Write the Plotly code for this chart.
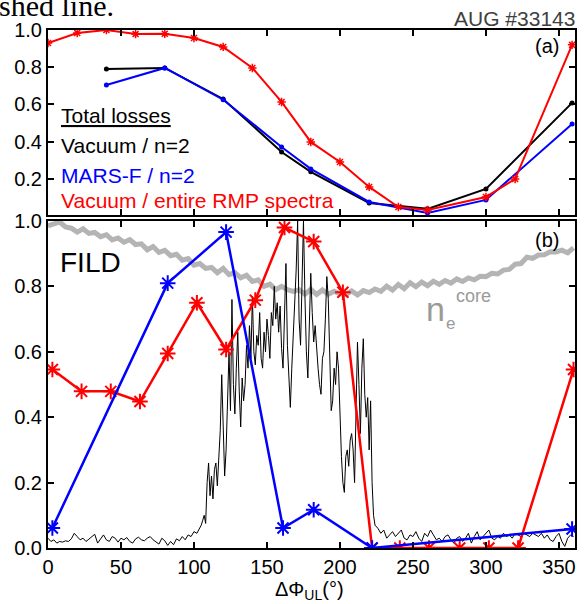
import plotly.graph_objects as go

# ---------------- data ----------------
# panel (a): total losses
a_red_x = [0, 20, 40, 60, 80, 100, 120, 140, 160, 180, 200, 220, 240, 260, 300, 320, 359]
a_red_y = [0.93, 0.984, 1.0, 0.978, 0.98, 0.957, 0.909, 0.796, 0.613, 0.398, 0.29, 0.156, 0.048, 0.032, 0.102, 0.199, 0.92]
a_blk_x = [40, 80, 120, 160, 180, 220, 260, 300, 359]
a_blk_y = [0.79, 0.796, 0.629, 0.344, 0.237, 0.07, 0.038, 0.145, 0.608]
a_blu_x = [40, 80, 120, 160, 180, 220, 260, 300, 359]
a_blu_y = [0.704, 0.796, 0.625, 0.371, 0.253, 0.075, 0.016, 0.086, 0.495]

# panel (b): FILD
b_red_x = [3, 23, 43, 63, 82, 102, 122, 142, 162, 182, 202, 222, 241, 261, 282, 302, 322, 360]
b_red_y = [0.546, 0.479, 0.479, 0.448, 0.595, 0.75, 0.607, 0.758, 0.98, 0.937, 0.782, 0.0, 0.0, 0.0, 0.0, 0.0, 0.0, 0.546]
b_blu_x = [3, 82, 122, 161, 182, 222, 359]
b_blu_y = [0.061, 0.81, 0.966, 0.061, 0.117, 0.0, 0.058]

ne_x = [0, 4, 8, 12, 16, 20, 24, 28, 32, 36, 40, 44, 48, 52, 56, 60, 64, 68, 72, 76,
        80, 84, 88, 92, 96, 100, 104, 108, 112, 116, 120, 124, 128, 132, 136, 140, 144, 148, 152, 156,
        160, 164, 168, 172, 176, 180, 184, 188, 192, 196, 200, 204, 208, 212, 216, 220, 224, 228, 232, 236,
        240, 244, 248, 252, 256, 260, 264, 268, 272, 276, 280, 284, 288, 292, 296, 300, 304, 308, 312, 316,
        320, 324, 328, 332, 336, 340, 344, 348, 352, 356, 360]
ne_y = [0.985, 0.992, 0.997, 0.982, 0.978, 0.966, 0.976, 0.962, 0.965, 0.952, 0.958, 0.942, 0.948, 0.935, 0.943, 0.928, 0.93, 0.912, 0.922, 0.904,
        0.91, 0.894, 0.898, 0.88, 0.885, 0.865, 0.87, 0.855, 0.858, 0.842, 0.855, 0.836, 0.842, 0.826, 0.834, 0.815, 0.82, 0.8, 0.807, 0.79,
        0.8, 0.79, 0.785, 0.79, 0.776, 0.791, 0.775, 0.789, 0.776, 0.785, 0.777, 0.775, 0.786, 0.774, 0.787, 0.781, 0.792, 0.785, 0.801, 0.789,
        0.806, 0.793, 0.811, 0.799, 0.813, 0.802, 0.816, 0.806, 0.818, 0.81, 0.823, 0.815, 0.826, 0.82, 0.831, 0.83, 0.84, 0.838, 0.85, 0.852,
        0.868, 0.87, 0.889, 0.886, 0.896, 0.897, 0.906, 0.905, 0.911, 0.903, 0.918]

fild_x = ([0, 2, 4, 6, 8, 10, 12, 14, 16, 18, 20, 22, 24, 26, 28, 30, 32, 34, 36, 38, 40, 42, 44, 46, 48, 50,
           52, 54, 56, 58, 60, 62, 64, 66, 68, 70, 72, 74, 76, 78, 80, 82, 84, 86, 88, 90, 92, 94, 96, 98, 100, 102, 104]
          + list(range(105, 225))
          + [226, 228, 230, 232, 234, 236, 238, 240, 242, 244, 246, 248, 250, 252, 254, 256, 258, 260, 262, 264,
             266, 268, 270, 272, 274, 276, 278, 280, 282, 284, 286, 288, 290, 292, 294, 296, 298, 300, 302, 304,
             306, 308, 310, 312, 314, 316, 318, 320, 322, 324, 326, 328, 330, 332, 334, 336, 338, 340, 342, 344,
             346, 348, 350, 352, 354, 356, 358, 360])
fild_y = ([0.03, 0.02, 0.025, 0.015, 0.02, 0.018, 0.022, 0.02, 0.028, 0.045, 0.035, 0.025, 0.03, 0.02, 0.027, 0.035, 0.042, 0.015,
           0.028, 0.04, 0.025, 0.02, 0.035, 0.03, 0.018, 0.03, 0.025, 0.032, 0.02, 0.015, 0.028, 0.033, 0.025, 0.022, 0.03, 0.035,
           0.025, 0.018, 0.012, 0.03, 0.022, 0.008, 0.02, 0.01, 0.028, 0.022, 0.035, 0.025, 0.04, 0.035, 0.05, 0.045, 0.06]
          + [0.07, 0.085, 0.1, 0.075, 0.2, 0.26, 0.16, 0.22, 0.15, 0.24, 0.26, 0.19, 0.29, 0.36, 0.53, 0.38, 0.22, 0.3, 0.45, 0.6,
             0.42, 0.76, 0.5, 0.41, 0.55, 0.66, 0.48, 0.37, 0.52, 0.45, 0.5, 0.62, 0.55, 0.68, 0.58, 0.77, 0.6, 0.56, 0.65, 0.62,
             0.72, 0.58, 0.55, 0.66, 0.6, 0.7, 0.65, 0.58, 0.72, 0.68, 0.8, 0.7, 0.75, 0.66, 0.74, 0.61, 0.55, 0.72, 0.87, 0.62,
             0.5, 0.43, 0.55, 0.66, 0.72, 0.85, 1.0, 0.7, 0.62, 0.8, 1.0, 0.77, 0.6, 0.52, 0.7, 0.84, 0.72, 0.63, 0.68, 0.6,
             0.55, 0.5, 0.47, 0.58, 0.6, 0.7, 0.83, 0.76, 0.6, 0.42, 0.45, 0.55, 0.5, 0.6, 0.55, 0.38, 0.28, 0.2, 0.17, 0.28,
             0.3, 0.25, 0.33, 0.35, 0.3, 0.2, 0.45, 0.63, 0.5, 0.35, 0.55, 0.64, 0.47, 0.4, 0.46, 0.3, 0.45, 0.2, 0.1, 0.07]
          + [0.06, 0.045, 0.055, 0.03, 0.04, 0.05, 0.035, 0.045, 0.055, 0.03, 0.025, 0.04, 0.035, 0.05, 0.03, 0.02, 0.045, 0.035,
             0.055, 0.04, 0.025, 0.03, 0.02, 0.035, 0.04, 0.025, 0.015, 0.03, 0.035, 0.02, 0.03, 0.045, 0.015, 0.035, 0.05, 0.025,
             0.035, 0.045, 0.055, 0.03, 0.025, 0.035, 0.03, 0.045, 0.035, 0.04, 0.03, 0.045, 0.04, 0.035, 0.045, 0.04, 0.035, 0.045,
             0.04, 0.035, 0.045, 0.03, 0.04, 0.025, 0.02, 0.035, 0.045, 0.02, 0.005, 0.03, 0.04, 0.035])

x_ticks = [0, 50, 100, 150, 200, 250, 300, 350]

# ---------------- figure ----------------
W, H = 585, 604
ML, MR, MT, MB = 48, 8, 30, 56
PW, PH = W - ML - MR, H - MT - MB


def px(p):
    return (p - ML) / PW


def py(p):
    return (H - MB - p) / PH


FONT = "Liberation Sans, Arial, sans-serif"
RED, BLUE = "#ff0000", "#0000ff"

fig = go.Figure()

# panel (a)
fig.add_trace(go.Scatter(x=a_blk_x, y=a_blk_y, mode="lines+markers", xaxis="x", yaxis="y",
                         line=dict(color="black", width=2), marker=dict(size=5, color="black")))
fig.add_trace(go.Scatter(x=a_blu_x, y=a_blu_y, mode="lines+markers", xaxis="x", yaxis="y",
                         line=dict(color=BLUE, width=2), marker=dict(size=5, color=BLUE)))
fig.add_trace(go.Scatter(x=a_red_x, y=a_red_y, mode="lines+markers", xaxis="x", yaxis="y",
                         line=dict(color=RED, width=2),
                         marker=dict(symbol="asterisk-open", size=7, line=dict(color=RED, width=1.5))))

# panel (b)
fig.add_trace(go.Scatter(x=ne_x, y=ne_y, mode="lines", xaxis="x2", yaxis="y2",
                         line=dict(color="#b4b4b4", width=5)))
fig.add_trace(go.Scatter(x=fild_x, y=fild_y, mode="lines", xaxis="x2", yaxis="y2",
                         line=dict(color="black", width=1)))
fig.add_trace(go.Scatter(x=b_red_x, y=b_red_y, mode="lines+markers", xaxis="x2", yaxis="y2",
                         line=dict(color=RED, width=2.5),
                         marker=dict(symbol="asterisk-open", size=13, line=dict(color=RED, width=2))))
fig.add_trace(go.Scatter(x=b_blu_x, y=b_blu_y, mode="lines+markers", xaxis="x2", yaxis="y2",
                         line=dict(color=BLUE, width=2.5),
                         marker=dict(symbol="asterisk-open", size=13, line=dict(color=BLUE, width=2))))

axis_common = dict(showgrid=False, zeroline=False, showline=True, linecolor="black", linewidth=2,
                   mirror="allticks", ticks="inside", ticklen=6, tickwidth=1.5, tickcolor="black",
                   tickfont=dict(family=FONT, size=20, color="black"))

fig.update_layout(
    width=W, height=H, margin=dict(l=ML, r=MR, t=MT, b=MB),
    paper_bgcolor="white", plot_bgcolor="white", showlegend=False,
    xaxis=dict(domain=[0, 1], anchor="y", range=[0, 361], tickvals=x_ticks, showticklabels=False, **axis_common),
    yaxis=dict(domain=[py(215), 1], anchor="x", range=[0.005, 1.0], tickvals=[0.2, 0.4, 0.6, 0.8, 1.0],
               tickformat=".1f", **axis_common),
    xaxis2=dict(domain=[0, 1], anchor="y2", range=[0, 361], tickvals=x_ticks, **axis_common),
    yaxis2=dict(domain=[0, py(221)], anchor="x2", range=[0, 1.0], tickvals=[0, 0.2, 0.4, 0.6, 0.8, 1.0],
                tickformat=".1f", **axis_common),
)

ann = []


def add_text(text, xp, yp, size, color="black", xanchor="left", yanchor="middle", family=FONT):
    ann.append(dict(text=text, x=px(xp), y=py(yp), xref="paper", yref="paper", showarrow=False,
                    xanchor=xanchor, yanchor=yanchor, font=dict(family=family, size=size, color=color)))


add_text("shed line.", -3, 24, 30, family="Liberation Serif, Times New Roman, serif", yanchor="bottom")
add_text("AUG #33143", 579, 19, 21, color="#404040", xanchor="right")
add_text("(a)", 563, 46, 20, xanchor="right")
add_text("<u>Total losses</u>", 59, 115, 21)
add_text("Vacuum / n=2", 59, 145, 21)
add_text("MARS-F / n=2", 59, 175, 21, color=BLUE)
add_text("Vacuum / entire RMP spectra", 59, 200, 21, color=RED)
add_text("(b)", 563, 240, 20, xanchor="right")
add_text("FILD", 58, 262, 28)
add_text("n", 437, 309, 34, color="#9a9a9a", xanchor="center")
add_text("e", 452, 323, 17, color="#9a9a9a", xanchor="center")
add_text("core", 475, 296, 18, color="#9a9a9a", xanchor="center")
add_text("ΔΦ<sub>UL</sub>(°)", 310, 590, 20, xanchor="center")

fig.update_layout(annotations=ann)

fig.write_html("out.html")
